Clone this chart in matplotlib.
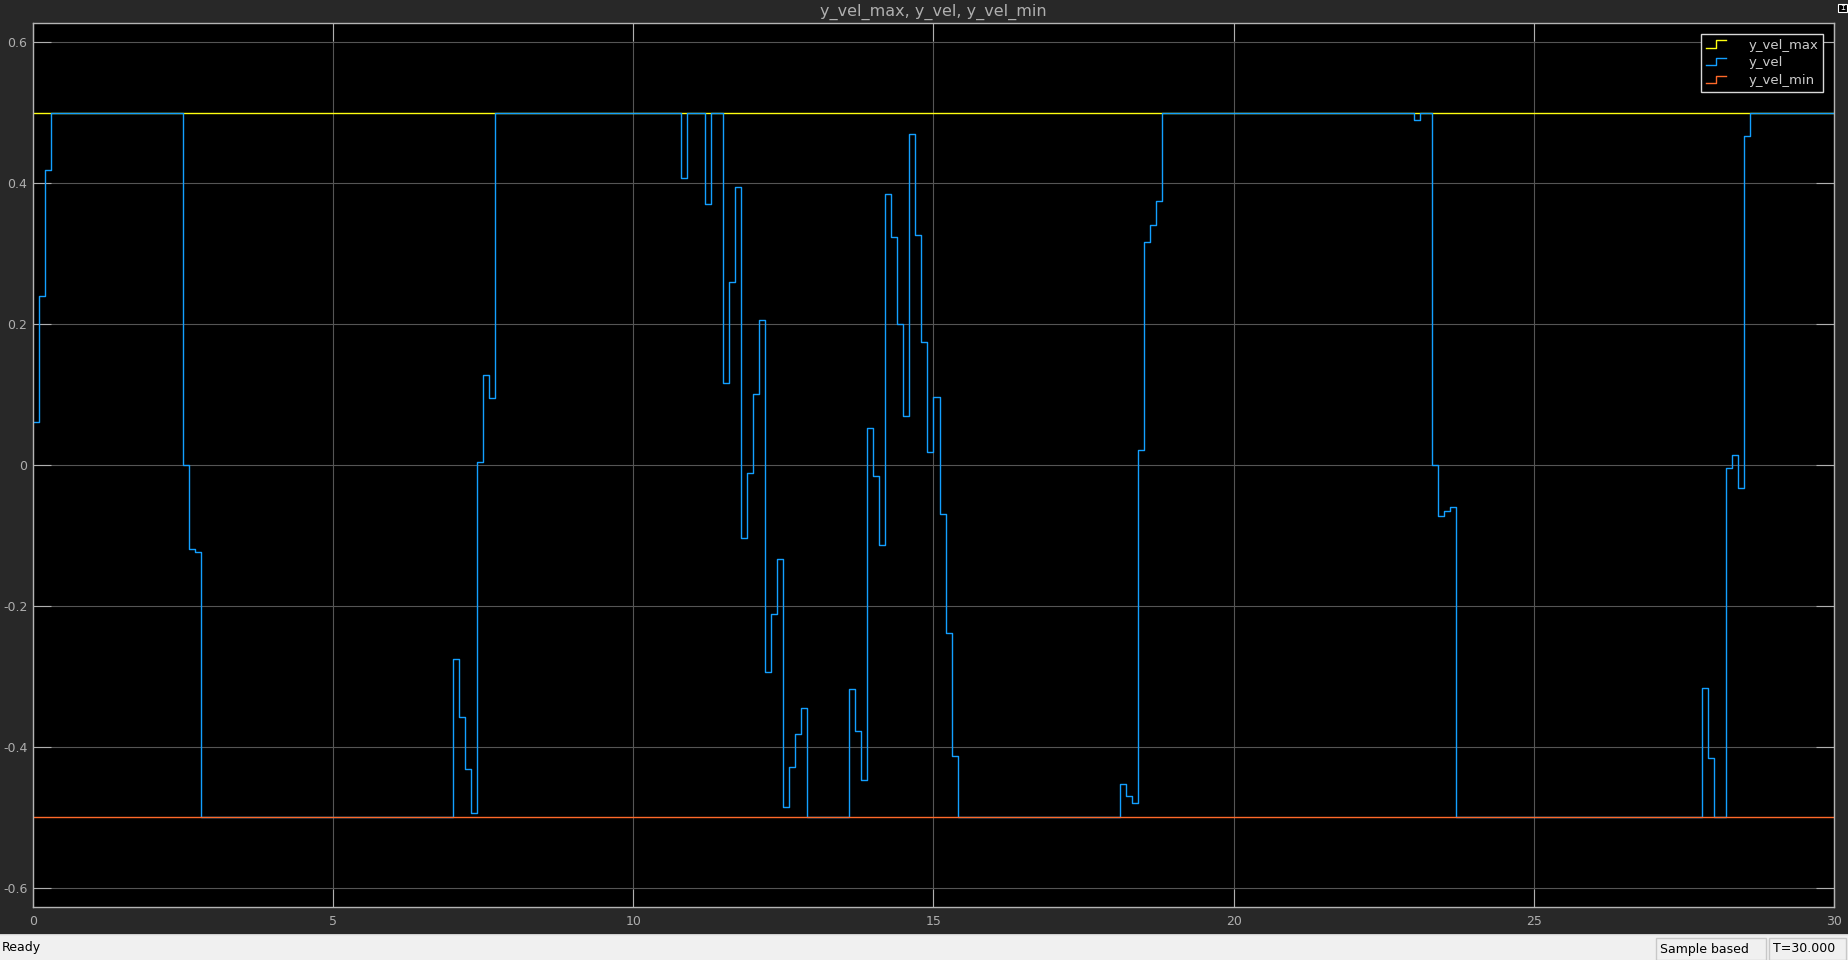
import matplotlib
matplotlib.use('Agg')
import matplotlib.pyplot as plt
from matplotlib.lines import Line2D
from matplotlib.legend_handler import HandlerBase
from matplotlib.patches import Rectangle
from matplotlib.ticker import FuncFormatter

# y_vel sampled every 0.1 s, kept as change points (time, value) -> held until next change
vel_t = [0.0, 0.1, 0.2, 0.3, 2.5, 2.6, 2.7, 2.8,
         7.0, 7.1, 7.2, 7.3, 7.4, 7.5, 7.6, 7.7,
         10.8, 10.9, 11.2, 11.3, 11.5, 11.6, 11.7, 11.8, 11.9, 12.0, 12.1,
         12.2, 12.3, 12.4, 12.5, 12.6, 12.7, 12.8, 12.9,
         13.6, 13.7, 13.8, 13.9, 14.0, 14.1, 14.2, 14.3, 14.4, 14.5, 14.6,
         14.7, 14.8, 14.9, 15.0, 15.1, 15.2, 15.3, 15.4,
         18.1, 18.2, 18.3, 18.4, 18.5, 18.6, 18.7, 18.8,
         23.0, 23.1, 23.3, 23.4, 23.5, 23.6, 23.7,
         27.8, 27.9, 28.0, 28.2, 28.3, 28.4, 28.5, 28.6, 30.0]
vel_v = [0.061, 0.240, 0.419, 0.5, 0.0, -0.119, -0.123, -0.5,
         -0.275, -0.358, -0.431, -0.494, 0.004, 0.128, 0.095, 0.5,
         0.407, 0.5, 0.370, 0.5, 0.116, 0.259, 0.395, -0.103, -0.012, 0.101, 0.206,
         -0.293, -0.211, -0.133, -0.485, -0.429, -0.381, -0.345, -0.5,
         -0.318, -0.377, -0.447, 0.052, -0.016, -0.113, 0.385, 0.323, 0.200, 0.069, 0.470,
         0.326, 0.175, 0.019, 0.097, -0.069, -0.239, -0.413, -0.5,
         -0.453, -0.470, -0.479, 0.021, 0.316, 0.340, 0.375, 0.5,
         0.49, 0.5, 0.0, -0.073, -0.065, -0.060, -0.5,
         -0.317, -0.415, -0.5, -0.004, 0.014, -0.032, 0.466, 0.5, 0.5]
assert len(vel_t) == len(vel_v)

lim_t = [0.0, 30.0]
max_v = [0.5, 0.5]
min_v = [-0.5, -0.5]

x_ticks = [0, 5, 10, 15, 20, 25, 30]
y_ticks = [-0.6, -0.4, -0.2, 0, 0.2, 0.4, 0.6]

c_max = '#ffff11'
c_vel = '#139fff'
c_min = '#ff6929'
fig_bg = '#282828'
txt_gray = '#afafaf'

W, H = 1849, 960
fig = plt.figure(figsize=(W / 100, H / 100), dpi=100, facecolor=fig_bg)

ax = fig.add_axes([33 / W, 53 / H, 1801 / W, 884 / H], facecolor='black')
l_max, = ax.step(lim_t, max_v, where='post', color=c_max, lw=1.0, label='y_vel_max')
l_vel, = ax.step(vel_t, vel_v, where='post', color=c_vel, lw=1.0, label='y_vel')
l_min, = ax.step(lim_t, min_v, where='post', color=c_min, lw=1.0, label='y_vel_min')

ax.set_xlim(0, 30)
ax.set_ylim(-0.627, 0.627)
ax.set_xticks(x_ticks)
ax.set_yticks(y_ticks)
ax.yaxis.set_major_formatter(FuncFormatter(lambda v, p: '%g' % round(v, 2)))
ax.grid(True, color='#555555', lw=0.8)
ax.set_axisbelow(True)
ax.tick_params(direction='in', length=13, width=0.8, color=txt_gray,
               labelcolor=txt_gray, labelsize=9, top=True, right=True)
ax.tick_params(axis='x', pad=6)
ax.tick_params(axis='y', pad=4)
for s in ax.spines.values():
    s.set_color('#b4b4b4')
    s.set_linewidth(1.0)


class StepHandler(HandlerBase):
    def create_artists(self, legend, orig_handle, xdescent, ydescent,
                       width, height, fontsize, trans):
        x0 = -xdescent
        y0 = -ydescent
        xs = [x0, x0 + width * 0.5, x0 + width * 0.5, x0 + width]
        ys = [y0 + height * 0.1, y0 + height * 0.1, y0 + height * 0.9, y0 + height * 0.9]
        ln = Line2D(xs, ys, color=orig_handle.get_color(), lw=1.0)
        ln.set_transform(trans)
        return [ln]


leg = ax.legend(handles=[l_max, l_vel, l_min], loc='upper right',
                handler_map={Line2D: StepHandler()},
                fontsize=9.5, frameon=True, fancybox=False, facecolor='black',
                edgecolor='#d8d8d8', framealpha=1, borderaxespad=0.8,
                handlelength=1.5, handletextpad=1.7, labelspacing=0.36,
                borderpad=0.38)
leg.get_frame().set_linewidth(1.0)
for t in leg.get_texts():
    t.set_color('#cccccc')

fig.text(933.5 / W, 1 - 12 / H, 'y_vel_max, y_vel, y_vel_min', color=txt_gray,
         fontsize=11.5, ha='center', va='center')

# small undock icon in the top right corner
fig.patches.append(Rectangle((1838 / W, 1 - 12 / H), 9 / W, 8 / H, transform=fig.transFigure,
                             facecolor='black', edgecolor='white', lw=0.8))
fig.text(1842.5 / W, 1 - 8 / H, '↥', color='white', fontsize=6, ha='center', va='center')

# status bar
sb = fig.add_axes([0, 0, 1, 26 / H], facecolor='#f0f0f0')
sb.set_xlim(0, W)
sb.set_ylim(0, 26)
sb.set_xticks([])
sb.set_yticks([])
for s in sb.spines.values():
    s.set_visible(False)
sb.axhline(26, color='#d0d0d0', lw=1)
sb.text(2, 12, 'Ready', fontsize=9, color='black', va='center', ha='left')
sb.add_patch(Rectangle((1656, 0), 110, 22, facecolor='none', edgecolor='#c8c8c8', lw=1))
sb.add_patch(Rectangle((1769, 0), 77, 22, facecolor='none', edgecolor='#c8c8c8', lw=1))
sb.text(1660, 11, 'Sample based', fontsize=9, color='black', va='center', ha='left')
sb.text(1773, 11, 'T=30.000', fontsize=9, color='black', va='center', ha='left')

fig.savefig('out.png', dpi=100, facecolor=fig_bg)
